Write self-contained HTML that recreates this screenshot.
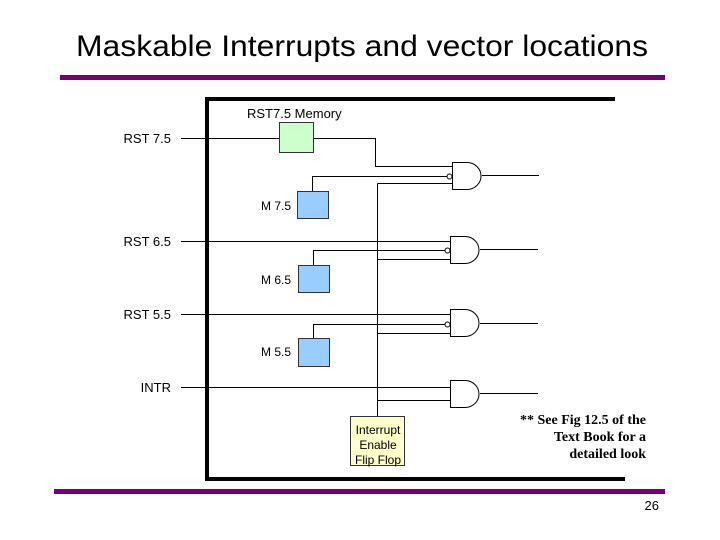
<!DOCTYPE html>
<html><head><style>
html,body{margin:0;padding:0;background:#fff;}
svg{display:block;}
text{font-family:"Liberation Sans",sans-serif;}
text.serif{font-family:"Liberation Serif",serif;}
</style></head><body>
<svg width="720" height="540" viewBox="0 0 720 540" xmlns="http://www.w3.org/2000/svg">
<rect width="720" height="540" fill="#fff"/>
<text x="76" y="56" font-size="30" fill="#000" textLength="572" lengthAdjust="spacingAndGlyphs">Maskable Interrupts and vector locations</text>
<rect x="60" y="75" width="605" height="5" fill="#770070"/>
<rect x="54" y="489" width="611" height="5" fill="#770070"/>
<text x="659" y="510" font-size="13" text-anchor="end">26</text>

<rect x="205" y="97" width="4" height="384" fill="#000"/>
<rect x="205" y="97" width="410" height="4" fill="#000"/>
<rect x="205" y="477" width="420" height="4" fill="#000"/>

<g font-size="13" text-anchor="end">
<text x="171" y="143">RST 7.5</text>
<text x="171" y="246">RST 6.5</text>
<text x="171" y="319">RST 5.5</text>
<text x="171" y="392">INTR</text>
</g>
<g font-size="12" text-anchor="end">
<text x="291" y="210">M  7.5</text>
<text x="291" y="284">M  6.5</text>
<text x="291" y="356">M  5.5</text>
</g>
<text x="247" y="118" font-size="13">RST7.5 Memory</text>

<g stroke="#000" stroke-width="1" fill="none">
<line x1="181" y1="138.5" x2="279" y2="138.5"/>
<polyline points="314,138.5 375.5,138.5 375.5,166.5 452,166.5"/>
<polyline points="312.5,191 312.5,176.5 447,176.5"/>
<line x1="377.5" y1="183.5" x2="377.5" y2="416"/>
<line x1="377.5" y1="183.5" x2="452" y2="183.5"/>
<line x1="181" y1="241.5" x2="450" y2="241.5"/>
<polyline points="313.5,265 313.5,250.5 446,250.5"/>
<line x1="377.5" y1="259.5" x2="450" y2="259.5"/>
<line x1="181" y1="314.5" x2="450" y2="314.5"/>
<polyline points="313.5,338 313.5,324.5 446,324.5"/>
<line x1="377.5" y1="333.5" x2="450" y2="333.5"/>
<line x1="181" y1="387.5" x2="450" y2="387.5"/>
<line x1="377.5" y1="400.5" x2="450" y2="400.5"/>
<line x1="482" y1="175.5" x2="539" y2="175.5"/>
<line x1="480" y1="249.5" x2="538" y2="249.5"/>
<line x1="480" y1="323.5" x2="538" y2="323.5"/>
<line x1="480" y1="393.5" x2="538" y2="393.5"/>
<path d="M452.5,162.5 H467 A14,13.5 0 0 1 467,189.5 H452.5 Z" fill="#fff"/>
<path d="M450.5,236.5 H465 A14,13.5 0 0 1 465,263.5 H450.5 Z" fill="#fff"/>
<path d="M450.5,309.5 H465 A14,13.5 0 0 1 465,336.5 H450.5 Z" fill="#fff"/>
<path d="M450.5,380.5 H465 A14,13.5 0 0 1 465,407.5 H450.5 Z" fill="#fff"/>
<circle cx="449.5" cy="176.5" r="2.5" fill="#fff"/>
<circle cx="447.5" cy="250.5" r="2.5" fill="#fff"/>
<circle cx="447.5" cy="324.5" r="2.5" fill="#fff"/>
</g>
<g stroke="#333" stroke-width="1">
<rect x="279.5" y="122.5" width="34" height="30" fill="#ccffcc"/>
<rect x="297.5" y="191.5" width="31" height="27" fill="#99ccff"/>
<rect x="298.5" y="265.5" width="31" height="27" fill="#99ccff"/>
<rect x="298.5" y="338.5" width="31" height="28" fill="#99ccff"/>
<rect x="350.5" y="416.5" width="54" height="49" fill="#ffffcc"/>
</g>
<g font-size="12" text-anchor="middle">
<text x="378" y="434">Interrupt</text>
<text x="378" y="449">Enable</text>
<text x="378" y="464">Flip Flop</text>
</g>
<g font-weight="bold" font-size="14" text-anchor="end">
<text class="serif" x="646" y="424">** See Fig 12.5 of the</text>
<text class="serif" x="646" y="441">Text Book for a</text>
<text class="serif" x="646" y="458">detailed look</text>
</g>
</svg>
</body></html>
